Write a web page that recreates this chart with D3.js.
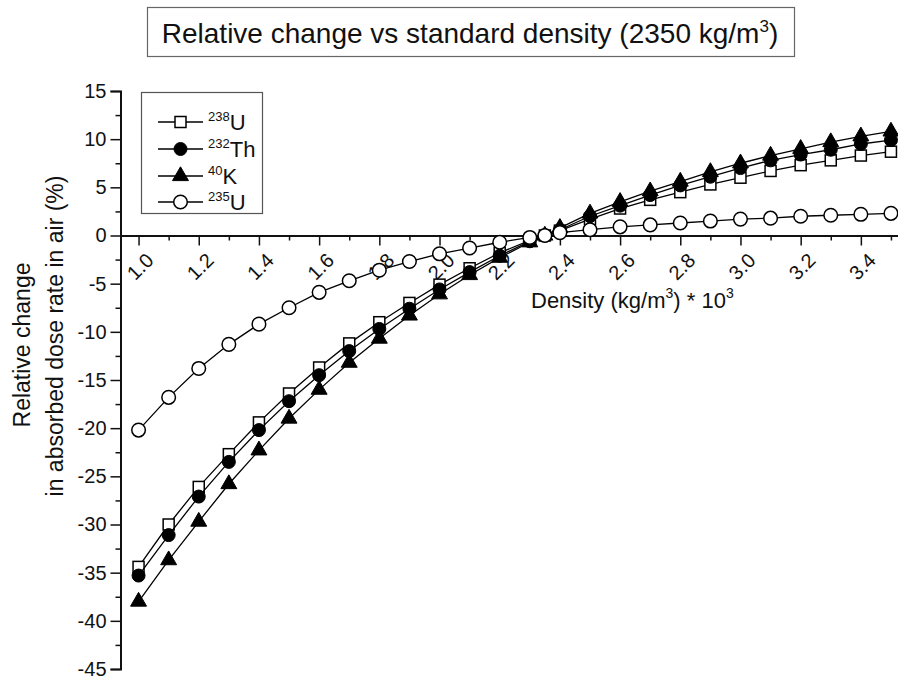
<!DOCTYPE html>
<html>
<head>
<meta charset="utf-8">
<script src="https://cdn.jsdelivr.net/npm/d3@7"></script>
<style>
  body { margin: 0; background: #fff; }
  svg { display: block; font-family: "Liberation Sans", Arial, sans-serif; }
</style>
</head>
<body>
<div id="chart"></div>
<script>
// density values (kg/m3 * 10^3), 2.35 is the standard density
const density = [1.0, 1.1, 1.2, 1.3, 1.4, 1.5, 1.6, 1.7, 1.8, 1.9, 2.0, 2.1, 2.2, 2.3, 2.35,
                 2.4, 2.5, 2.6, 2.7, 2.8, 2.9, 3.0, 3.1, 3.2, 3.3, 3.4, 3.5];

// relative change (%) for each nuclide
const u238 = [-34.4, -30.0, -26.1, -22.7, -19.4, -16.4, -13.7, -11.2, -9.0, -7.0, -5.1, -3.4, -1.8, -0.5, 0,
              0.5, 1.7, 2.8, 3.7, 4.5, 5.3, 6.0, 6.7, 7.3, 7.8, 8.3, 8.7];
const th232 = [-35.3, -31.1, -27.1, -23.5, -20.2, -17.2, -14.5, -12.0, -9.7, -7.6, -5.6, -3.8, -2.1, -0.6, 0,
               0.6, 2.0, 3.1, 4.2, 5.2, 6.1, 7.0, 7.8, 8.4, 8.9, 9.5, 9.9];
const k40 = [-38.0, -33.7, -29.7, -25.8, -22.3, -19.0, -16.0, -13.2, -10.7, -8.3, -6.1, -4.1, -2.3, -0.7, 0,
             0.8, 2.3, 3.5, 4.6, 5.6, 6.6, 7.5, 8.3, 9.0, 9.7, 10.3, 10.8];
const u235 = [-20.2, -16.8, -13.8, -11.3, -9.2, -7.5, -5.9, -4.7, -3.6, -2.7, -1.9, -1.3, -0.7, -0.2, 0,
              0.3, 0.6, 0.9, 1.1, 1.3, 1.5, 1.7, 1.8, 2.0, 2.1, 2.2, 2.3];

const seriesNames = [["238", "U"], ["232", "Th"], ["40", "K"], ["235", "U"]];
const seriesSymbols = ["square", "filledCircle", "triangle", "openCircle"];

const xTicks = [1.0, 1.2, 1.4, 1.6, 1.8, 2.0, 2.2, 2.4, 2.6, 2.8, 3.0, 3.2, 3.4];
const xMinor = [1.1, 1.3, 1.5, 1.7, 1.9, 2.1, 2.3, 2.5, 2.7, 2.9, 3.1, 3.3, 3.5];
const yTicks = [15, 10, 5, 0, -5, -10, -15, -20, -25, -30, -35, -40, -45];
const yMinor = [12.5, 7.5, 2.5, -2.5, -7.5, -12.5, -17.5, -22.5, -27.5, -32.5, -37.5, -42.5];

const width = 898, height = 679;
const svg = d3.select("#chart").append("svg")
    .attr("width", width)
    .attr("height", height);

// scales (1.0 -> x 138.6, 3.5 -> x 891)
const x = d3.scaleLinear().domain([0.94, 3.55]).range([120.5, 906]);
const y = d3.scaleLinear().domain([-45, 15]).range([669, 91]);
const axisColor = "#111";

// Title box
svg.append("rect")
    .attr("x", 147.5).attr("y", 7.5)
    .attr("width", 647).attr("height", 49)
    .attr("fill", "#fff").attr("stroke", "#666").attr("stroke-width", 1.2);
const title = svg.append("text")
    .attr("x", 470).attr("y", 43)
    .attr("text-anchor", "middle")
    .style("font-size", "28px")
    .style("fill", "#111");
title.append("tspan").text("Relative change vs standard density (2350 kg/m");
title.append("tspan").attr("dy", -11).style("font-size", "17px").text("3");
title.append("tspan").attr("dy", 11).text(")");

// Y axis
const yAxis = svg.append("g")
    .attr("transform", `translate(${x(0.94)},0)`)
    .call(d3.axisLeft(y).tickValues(yTicks).tickSize(10).tickFormat(d => String(d)));
yAxis.select(".domain").attr("stroke", axisColor).attr("stroke-width", 2);
yAxis.selectAll(".tick line").attr("stroke", axisColor).attr("stroke-width", 1.5);
yAxis.selectAll("text")
    .attr("x", -14)
    .style("font-size", "20px")
    .style("font-family", "Liberation Sans, Arial, sans-serif")
    .style("fill", "#111");
const yMinorAxis = svg.append("g")
    .attr("transform", `translate(${x(0.94)},0)`)
    .call(d3.axisLeft(y).tickValues(yMinor).tickSize(5).tickFormat(""));
yMinorAxis.select(".domain").remove();
yMinorAxis.selectAll(".tick line").attr("stroke", axisColor).attr("stroke-width", 1.5);

// X axis at y = 0
const xAxis = svg.append("g")
    .attr("transform", `translate(0,${y(0)})`)
    .call(d3.axisBottom(x).tickValues(xTicks).tickSize(10).tickSizeOuter(0).tickFormat(d3.format(".1f")));
xAxis.select(".domain").attr("stroke", axisColor).attr("stroke-width", 2);
xAxis.selectAll(".tick line").attr("stroke", axisColor).attr("stroke-width", 1.5);
xAxis.selectAll("text")
    .attr("y", 0)
    .attr("dy", "0.35em")
    .attr("text-anchor", "middle")
    .attr("transform", "translate(1,31) rotate(-45)")
    .style("font-size", "20px")
    .style("font-family", "Liberation Sans, Arial, sans-serif")
    .style("fill", "#111");
const xMinorAxis = svg.append("g")
    .attr("transform", `translate(0,${y(0)})`)
    .call(d3.axisBottom(x).tickValues(xMinor).tickSize(5).tickFormat(""));
xMinorAxis.select(".domain").remove();
xMinorAxis.selectAll(".tick line").attr("stroke", axisColor).attr("stroke-width", 1.5);

// Axis titles
const xTitle = svg.append("text")
    .attr("x", 531).attr("y", 308)
    .style("font-size", "22px")
    .style("fill", "#111");
xTitle.append("tspan").text("Density (kg/m");
xTitle.append("tspan").attr("dy", -10).style("font-size", "14px").text("3");
xTitle.append("tspan").attr("dy", 10).text(") * 10");
xTitle.append("tspan").attr("dy", -10).style("font-size", "14px").text("3");

svg.append("text")
    .attr("transform", "translate(30,345) rotate(-90)")
    .attr("text-anchor", "middle")
    .style("font-size", "23px")
    .style("fill", "#111")
    .text("Relative change");
svg.append("text")
    .attr("transform", "translate(63,336) rotate(-90)")
    .attr("text-anchor", "middle")
    .style("font-size", "23px")
    .style("fill", "#111")
    .text("in absorbed dose rate in air (%)");

// marker drawing
function drawMarker(g, type, cx, cy) {
    if (type === "square") {
        g.append("rect")
            .attr("x", cx - 5.5).attr("y", cy - 5.5)
            .attr("width", 11).attr("height", 11)
            .attr("fill", "#fff").attr("stroke", "#000").attr("stroke-width", 1.5);
    } else if (type === "filledCircle") {
        g.append("circle")
            .attr("cx", cx).attr("cy", cy).attr("r", 6.5)
            .attr("fill", "#000").attr("stroke", "#000").attr("stroke-width", 1);
    } else if (type === "triangle") {
        g.append("path")
            .attr("d", d3.symbol().type(d3.symbolTriangle).size(110)())
            .attr("transform", `translate(${cx},${cy})`)
            .attr("fill", "#000").attr("stroke", "#000").attr("stroke-width", 1);
    } else {
        g.append("circle")
            .attr("cx", cx).attr("cy", cy).attr("r", 6.8)
            .attr("fill", "#fff").attr("stroke", "#000").attr("stroke-width", 1.5);
    }
}

// Series
const allSeries = [u238, th232, k40, u235];
const line = d3.line().x(d => x(d[0])).y(d => y(d[1]));
allSeries.forEach((vals, i) => {
    const pts = density.map((d, j) => [d, vals[j]]);
    const g = svg.append("g").attr("class", "series");
    g.append("path")
        .attr("d", line(pts))
        .attr("fill", "none")
        .attr("stroke", "#000")
        .attr("stroke-width", 1.3);
    pts.forEach(p => drawMarker(g, seriesSymbols[i], x(p[0]), y(p[1])));
});

// Legend
svg.append("rect")
    .attr("x", 141.5).attr("y", 92.5)
    .attr("width", 121).attr("height", 121)
    .attr("fill", "#fff").attr("stroke", "#555").attr("stroke-width", 1.2);
const legendY = [122, 149, 176, 202];
seriesNames.forEach((nm, i) => {
    const g = svg.append("g");
    g.append("line")
        .attr("x1", 158).attr("x2", 203)
        .attr("y1", legendY[i]).attr("y2", legendY[i])
        .attr("stroke", "#000").attr("stroke-width", 1.3);
    drawMarker(g, seriesSymbols[i], 180.5, legendY[i]);
    const t = g.append("text")
        .attr("x", 208).attr("y", legendY[i] + 8)
        .style("font-size", "22px")
        .style("fill", "#111");
    t.append("tspan").attr("dy", -9).style("font-size", "13px").text(nm[0]);
    t.append("tspan").attr("dy", 9).text(nm[1]);
});
</script>
</body>
</html>
